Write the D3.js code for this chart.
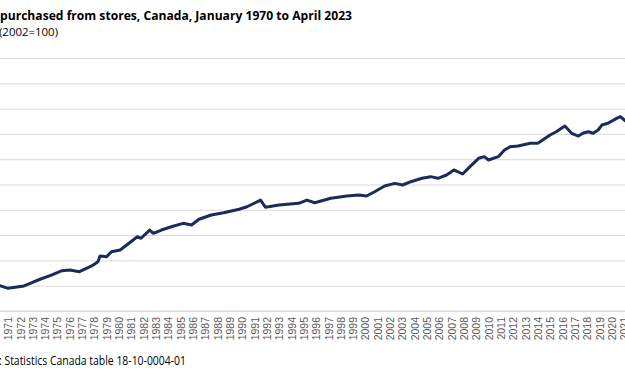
<!DOCTYPE html>
<html>
<head>
<meta charset="utf-8">
<script src="https://cdnjs.cloudflare.com/ajax/libs/d3/7.8.5/d3.min.js"></script>
<style>
  html, body { margin: 0; padding: 0; background: #fff; }
  svg { display: block; font-family: "Open Sans", "Liberation Sans", sans-serif; }
</style>
</head>
<body>
<div class="chart"></div>
<script>
// data (decimal year, index 2002=100)
const pointDates = [1970.0, 1970.35, 1971.0, 1972.3, 1972.8, 1973.6, 1974.57, 1975.38, 1976.0, 1976.8,
  1977.8, 1978.3, 1978.47, 1979.0, 1979.4, 1980.1, 1980.74, 1981.5, 1981.8, 1982.5,
  1982.8, 1983.45, 1984.26, 1985.2, 1985.9, 1986.5, 1987.5, 1988.5, 1989.76, 1990.4,
  1991.5, 1991.9, 1993.0, 1994.6, 1995.26, 1995.9, 1997.2, 1998.5, 1999.47, 2000.1,
  2000.76, 2001.57, 2002.4, 2003.03, 2003.7, 2004.6, 2005.3, 2005.9, 2006.6, 2007.2,
  2007.9, 2008.5, 2009.2, 2009.66, 2010.0, 2010.8, 2011.3, 2011.75, 2012.4, 2013.4,
  2014.0, 2014.4, 2015.0, 2015.5, 2016.2, 2016.75, 2017.3, 2017.7, 2018.1, 2018.5,
  2018.9, 2019.2, 2019.7, 2020.4, 2020.7, 2021.1, 2021.4]
const pointValues = [20.5, 20.0, 17.9, 19.8, 21.9, 25.1, 28.5, 31.9, 32.4, 31.1,
  35.6, 39.0, 43.5, 42.9, 46.9, 48.2, 53.0, 58.7, 57.5, 64.0,
  61.4, 64.0, 66.6, 69.3, 68.0, 72.5, 75.9, 77.7, 80.4, 82.4,
  87.7, 82.0, 83.8, 85.1, 87.7, 85.6, 89.1, 90.9, 91.7, 90.9,
  94.3, 98.8, 100.9, 99.6, 102.2, 104.9, 106.2, 104.9, 107.5, 111.5,
  108.3, 114.1, 120.7, 122.0, 119.4, 122.0, 127.3, 129.9, 130.4, 132.6,
  132.6, 135.2, 139.1, 141.7, 146.2, 140.5, 138.3, 140.7, 141.7, 140.5,
  143.1, 147.0, 148.4, 152.3, 153.6, 150.4, 152.0]
const yearLabels = d3.range(1971, 2022)
const gridValues = [0, 20, 40, 60, 80, 100, 120, 140, 160, 180, 200]

const titleText = "purchased from stores, Canada, January 1970 to April 2023"
const subtitleText = "(2002=100)"
const sourceText = ": Statistics Canada table 18-10-0004-01"

const w = 625
const h = 375

const svg = d3.select(".chart")
  .append("svg")
  .attr("width", w)
  .attr("height", h)

// scales
const xScale = d3.scaleLinear()
  .domain([1971, 2021])
  .range([8, 624])

const yScale = d3.scaleLinear()
  .domain([0, 200])
  .range([311, 58])

// gridlines
const grid = svg.append("g")
  .call(d3.axisLeft(yScale).tickValues(gridValues).tickSize(-w).tickFormat(""))
  .attr("transform", "translate(0,0)")
grid.select(".domain").remove()
grid.selectAll("line").attr("x1", 0).attr("x2", w).attr("stroke", "#d9d9d9").attr("stroke-width", 1)

// x axis labels
const xAxis = svg.append("g")
  .attr("transform", "translate(0,311)")
  .call(d3.axisBottom(xScale).tickValues(yearLabels).tickFormat(d3.format("d")).tickSize(0))
xAxis.select(".domain").attr("stroke", "#d9d9d9").attr("d", "M0,0H" + w)
xAxis.selectAll("text")
  .attr("transform", "rotate(-90)")
  .attr("text-anchor", "end")
  .attr("x", -6)
  .attr("y", 0)
  .attr("dy", "0.35em")
  .style("font-size", "10.5px")
  .style("font-family", "'Liberation Sans', Arial, sans-serif")
  .attr("fill", "#595959")

// line
const line = d3.line()
  .x((d, i) => xScale(pointDates[i]))
  .y(d => yScale(d))

svg.append("path")
  .datum(pointValues)
  .attr("d", line)
  .attr("fill", "none")
  .attr("stroke", "#1d2b5b")
  .attr("stroke-width", 3)
  .attr("stroke-linejoin", "round")

// titles
svg.append("text")
  .attr("x", 0)
  .attr("y", 20)
  .attr("font-weight", "bold")
  .attr("font-size", "13px")
  .attr("fill", "#000")
  .attr("textLength", 352)
  .attr("lengthAdjust", "spacingAndGlyphs")
  .text(titleText)

svg.append("text")
  .attr("x", -1)
  .attr("y", 36)
  .attr("font-size", "11.5px")
  .attr("fill", "#000")
  .attr("textLength", 59)
  .attr("lengthAdjust", "spacingAndGlyphs")
  .text(subtitleText)

svg.append("text")
  .attr("x", -1)
  .attr("y", 365)
  .attr("font-size", "12px")
  .attr("fill", "#000")
  .attr("textLength", 187)
  .attr("lengthAdjust", "spacingAndGlyphs")
  .text(sourceText)
</script>
</body>
</html>
